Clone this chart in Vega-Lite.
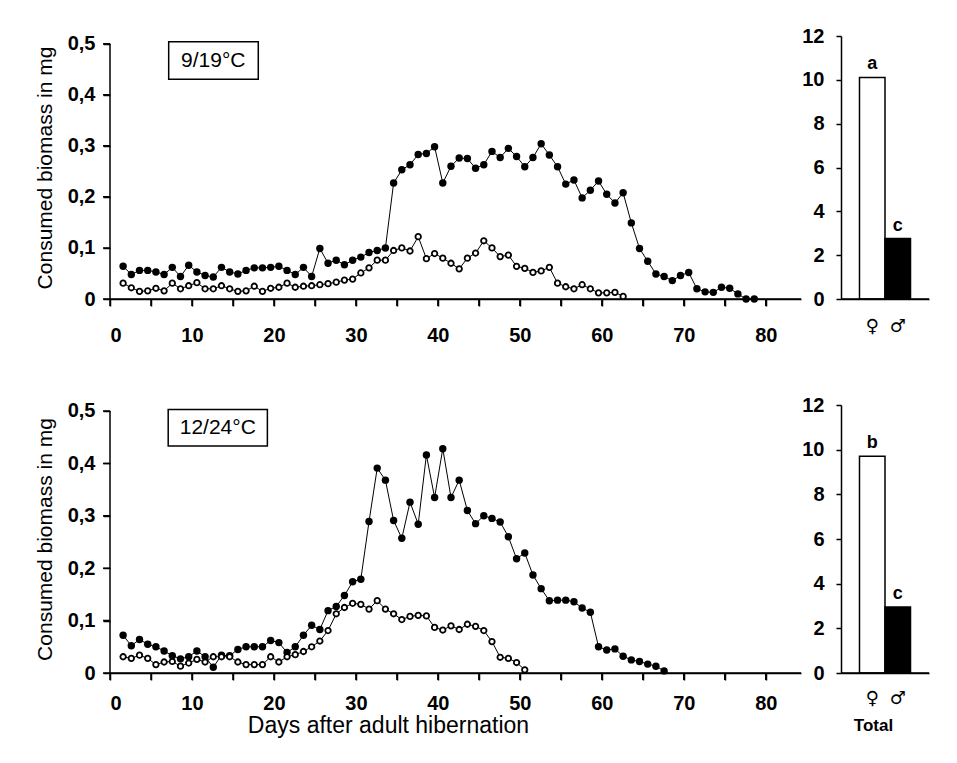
{
  "$schema": "https://vega.github.io/schema/vega-lite/v6.json",
  "padding": {"left": 34, "top": 26, "right": 5, "bottom": 5},
  "background": "white",
  "config": {
    "font": "Liberation Sans",
    "view": {"stroke": null},
    "rule": {"opacity": 1, "strokeOpacity": 1, "stroke": "black"},
    "axis": {"domainColor": "black", "tickColor": "black", "labelColor": "black", "titleColor": "black", "domainWidth": 1.5, "tickWidth": 1.5, "domainOpacity": 1, "tickOpacity": 1, "labelFontSize": 20, "labelFontWeight": "bold", "titleFontSize": 21, "titleFontWeight": "normal", "grid": false},
    "axisX": {"domainOpacity": 1, "tickOpacity": 1, "domainColor": "black", "tickColor": "black"},
    "axisBottom": {"domainOpacity": 1, "tickOpacity": 1, "domainColor": "black", "tickColor": "black"}
  },
  "columns": 2,
  "spacing": {"row": 106, "column": 40},
  "bounds": "flush",
  "align": "each",
  "datasets": {
    "xt": [{"t":0},{"t":5},{"t":10},{"t":15},{"t":20},{"t":25},{"t":30},{"t":35},{"t":40},{"t":45},{"t":50},{"t":55},{"t":60},{"t":65},{"t":70},{"t":75},{"t":80}],
    "yt": [{"t":0},{"t":0.1},{"t":0.2},{"t":0.3},{"t":0.4},{"t":0.5}],
    "top": [
      {"d":1.6,"s":"F","v":0.064},{"d":2.6,"s":"F","v":0.048},{"d":3.6,"s":"F","v":0.056},{"d":4.6,"s":"F","v":0.056},{"d":5.6,"s":"F","v":0.053},{"d":6.6,"s":"F","v":0.048},{"d":7.6,"s":"F","v":0.062},{"d":8.6,"s":"F","v":0.044},{"d":9.6,"s":"F","v":0.066},{"d":10.6,"s":"F","v":0.053},
      {"d":11.6,"s":"F","v":0.046},{"d":12.6,"s":"F","v":0.043},{"d":13.6,"s":"F","v":0.062},{"d":14.6,"s":"F","v":0.053},{"d":15.6,"s":"F","v":0.049},{"d":16.6,"s":"F","v":0.056},{"d":17.6,"s":"F","v":0.061},{"d":18.6,"s":"F","v":0.061},{"d":19.6,"s":"F","v":0.062},{"d":20.6,"s":"F","v":0.064},
      {"d":21.6,"s":"F","v":0.056},{"d":22.6,"s":"F","v":0.048},{"d":23.6,"s":"F","v":0.062},{"d":24.6,"s":"F","v":0.044},{"d":25.6,"s":"F","v":0.099},{"d":26.6,"s":"F","v":0.070},{"d":27.6,"s":"F","v":0.076},{"d":28.6,"s":"F","v":0.067},{"d":29.6,"s":"F","v":0.076},{"d":30.6,"s":"F","v":0.082},
      {"d":31.6,"s":"F","v":0.091},{"d":32.6,"s":"F","v":0.095},{"d":33.6,"s":"F","v":0.100},{"d":34.6,"s":"F","v":0.227},{"d":35.6,"s":"F","v":0.253},{"d":36.6,"s":"F","v":0.263},{"d":37.6,"s":"F","v":0.283},{"d":38.6,"s":"F","v":0.285},{"d":39.6,"s":"F","v":0.298},{"d":40.6,"s":"F","v":0.227},
      {"d":41.6,"s":"F","v":0.260},{"d":42.6,"s":"F","v":0.276},{"d":43.6,"s":"F","v":0.275},{"d":44.6,"s":"F","v":0.256},{"d":45.6,"s":"F","v":0.263},{"d":46.6,"s":"F","v":0.289},{"d":47.6,"s":"F","v":0.277},{"d":48.6,"s":"F","v":0.295},{"d":49.6,"s":"F","v":0.279},{"d":50.6,"s":"F","v":0.259},
      {"d":51.6,"s":"F","v":0.277},{"d":52.6,"s":"F","v":0.304},{"d":53.6,"s":"F","v":0.282},{"d":54.6,"s":"F","v":0.259},{"d":55.6,"s":"F","v":0.225},{"d":56.6,"s":"F","v":0.233},{"d":57.6,"s":"F","v":0.198},{"d":58.6,"s":"F","v":0.213},{"d":59.6,"s":"F","v":0.231},{"d":60.6,"s":"F","v":0.205},
      {"d":61.6,"s":"F","v":0.188},{"d":62.6,"s":"F","v":0.208},{"d":63.6,"s":"F","v":0.149},{"d":64.6,"s":"F","v":0.099},{"d":65.6,"s":"F","v":0.074},{"d":66.6,"s":"F","v":0.049},{"d":67.6,"s":"F","v":0.044},{"d":68.6,"s":"F","v":0.036},{"d":69.6,"s":"F","v":0.046},{"d":70.6,"s":"F","v":0.052},
      {"d":71.6,"s":"F","v":0.020},{"d":72.6,"s":"F","v":0.014},{"d":73.6,"s":"F","v":0.013},{"d":74.6,"s":"F","v":0.023},{"d":75.6,"s":"F","v":0.021},{"d":76.6,"s":"F","v":0.010},{"d":77.6,"s":"F","v":0.0},{"d":78.6,"s":"F","v":0.0},
      {"d":1.6,"s":"M","v":0.031},{"d":2.6,"s":"M","v":0.022},{"d":3.6,"s":"M","v":0.015},{"d":4.6,"s":"M","v":0.016},{"d":5.6,"s":"M","v":0.021},{"d":6.6,"s":"M","v":0.016},{"d":7.6,"s":"M","v":0.031},{"d":8.6,"s":"M","v":0.020},{"d":9.6,"s":"M","v":0.026},{"d":10.6,"s":"M","v":0.032},
      {"d":11.6,"s":"M","v":0.020},{"d":12.6,"s":"M","v":0.020},{"d":13.6,"s":"M","v":0.026},{"d":14.6,"s":"M","v":0.020},{"d":15.6,"s":"M","v":0.015},{"d":16.6,"s":"M","v":0.016},{"d":17.6,"s":"M","v":0.025},{"d":18.6,"s":"M","v":0.015},{"d":19.6,"s":"M","v":0.021},{"d":20.6,"s":"M","v":0.023},
      {"d":21.6,"s":"M","v":0.031},{"d":22.6,"s":"M","v":0.023},{"d":23.6,"s":"M","v":0.025},{"d":24.6,"s":"M","v":0.026},{"d":25.6,"s":"M","v":0.028},{"d":26.6,"s":"M","v":0.030},{"d":27.6,"s":"M","v":0.033},{"d":28.6,"s":"M","v":0.037},{"d":29.6,"s":"M","v":0.039},{"d":30.6,"s":"M","v":0.051},
      {"d":31.6,"s":"M","v":0.061},{"d":32.6,"s":"M","v":0.076},{"d":33.6,"s":"M","v":0.076},{"d":34.6,"s":"M","v":0.095},{"d":35.6,"s":"M","v":0.100},{"d":36.6,"s":"M","v":0.094},{"d":37.6,"s":"M","v":0.122},{"d":38.6,"s":"M","v":0.079},{"d":39.6,"s":"M","v":0.089},{"d":40.6,"s":"M","v":0.080},
      {"d":41.6,"s":"M","v":0.070},{"d":42.6,"s":"M","v":0.059},{"d":43.6,"s":"M","v":0.080},{"d":44.6,"s":"M","v":0.090},{"d":45.6,"s":"M","v":0.114},{"d":46.6,"s":"M","v":0.100},{"d":47.6,"s":"M","v":0.083},{"d":48.6,"s":"M","v":0.086},{"d":49.6,"s":"M","v":0.064},{"d":50.6,"s":"M","v":0.060},
      {"d":51.6,"s":"M","v":0.052},{"d":52.6,"s":"M","v":0.055},{"d":53.6,"s":"M","v":0.062},{"d":54.6,"s":"M","v":0.031},{"d":55.6,"s":"M","v":0.024},{"d":56.6,"s":"M","v":0.020},{"d":57.6,"s":"M","v":0.028},{"d":58.6,"s":"M","v":0.020},{"d":59.6,"s":"M","v":0.012},{"d":60.6,"s":"M","v":0.012},
      {"d":61.6,"s":"M","v":0.013},{"d":62.6,"s":"M","v":0.005}
    ],
    "bottom": [
      {"d":1.6,"s":"F","v":0.072},{"d":2.6,"s":"F","v":0.052},{"d":3.6,"s":"F","v":0.064},{"d":4.6,"s":"F","v":0.055},{"d":5.6,"s":"F","v":0.050},{"d":6.6,"s":"F","v":0.042},{"d":7.6,"s":"F","v":0.033},{"d":8.6,"s":"F","v":0.027},{"d":9.6,"s":"F","v":0.031},{"d":10.6,"s":"F","v":0.042},
      {"d":11.6,"s":"F","v":0.031},{"d":12.6,"s":"F","v":0.011},{"d":13.6,"s":"F","v":0.034},{"d":14.6,"s":"F","v":0.033},{"d":15.6,"s":"F","v":0.045},{"d":16.6,"s":"F","v":0.050},{"d":17.6,"s":"F","v":0.050},{"d":18.6,"s":"F","v":0.050},{"d":19.6,"s":"F","v":0.062},{"d":20.6,"s":"F","v":0.058},
      {"d":21.6,"s":"F","v":0.039},{"d":22.6,"s":"F","v":0.050},{"d":23.6,"s":"F","v":0.072},{"d":24.6,"s":"F","v":0.091},{"d":25.6,"s":"F","v":0.083},{"d":26.6,"s":"F","v":0.119},{"d":27.6,"s":"F","v":0.127},{"d":28.6,"s":"F","v":0.148},{"d":29.6,"s":"F","v":0.174},{"d":30.6,"s":"F","v":0.179},
      {"d":31.6,"s":"F","v":0.289},{"d":32.6,"s":"F","v":0.391},{"d":33.6,"s":"F","v":0.368},{"d":34.6,"s":"F","v":0.291},{"d":35.6,"s":"F","v":0.257},{"d":36.6,"s":"F","v":0.326},{"d":37.6,"s":"F","v":0.284},{"d":38.6,"s":"F","v":0.416},{"d":39.6,"s":"F","v":0.335},{"d":40.6,"s":"F","v":0.428},
      {"d":41.6,"s":"F","v":0.335},{"d":42.6,"s":"F","v":0.368},{"d":43.6,"s":"F","v":0.310},{"d":44.6,"s":"F","v":0.285},{"d":45.6,"s":"F","v":0.300},{"d":46.6,"s":"F","v":0.295},{"d":47.6,"s":"F","v":0.288},{"d":48.6,"s":"F","v":0.260},{"d":49.6,"s":"F","v":0.218},{"d":50.6,"s":"F","v":0.229},
      {"d":51.6,"s":"F","v":0.187},{"d":52.6,"s":"F","v":0.161},{"d":53.6,"s":"F","v":0.138},{"d":54.6,"s":"F","v":0.139},{"d":55.6,"s":"F","v":0.139},{"d":56.6,"s":"F","v":0.136},{"d":57.6,"s":"F","v":0.124},{"d":58.6,"s":"F","v":0.116},{"d":59.6,"s":"F","v":0.050},{"d":60.6,"s":"F","v":0.044},
      {"d":61.6,"s":"F","v":0.046},{"d":62.6,"s":"F","v":0.032},{"d":63.6,"s":"F","v":0.025},{"d":64.6,"s":"F","v":0.022},{"d":65.6,"s":"F","v":0.017},{"d":66.6,"s":"F","v":0.013},{"d":67.6,"s":"F","v":0.004},
      {"d":1.6,"s":"M","v":0.031},{"d":2.6,"s":"M","v":0.028},{"d":3.6,"s":"M","v":0.034},{"d":4.6,"s":"M","v":0.028},{"d":5.6,"s":"M","v":0.016},{"d":6.6,"s":"M","v":0.021},{"d":7.6,"s":"M","v":0.022},{"d":8.6,"s":"M","v":0.013},{"d":9.6,"s":"M","v":0.019},{"d":10.6,"s":"M","v":0.026},
      {"d":11.6,"s":"M","v":0.021},{"d":12.6,"s":"M","v":0.031},{"d":13.6,"s":"M","v":0.031},{"d":14.6,"s":"M","v":0.031},{"d":15.6,"s":"M","v":0.021},{"d":16.6,"s":"M","v":0.016},{"d":17.6,"s":"M","v":0.016},{"d":18.6,"s":"M","v":0.016},{"d":19.6,"s":"M","v":0.031},{"d":20.6,"s":"M","v":0.021},
      {"d":21.6,"s":"M","v":0.031},{"d":22.6,"s":"M","v":0.035},{"d":23.6,"s":"M","v":0.041},{"d":24.6,"s":"M","v":0.050},{"d":25.6,"s":"M","v":0.061},{"d":26.6,"s":"M","v":0.081},{"d":27.6,"s":"M","v":0.113},{"d":28.6,"s":"M","v":0.125},{"d":29.6,"s":"M","v":0.133},{"d":30.6,"s":"M","v":0.131},
      {"d":31.6,"s":"M","v":0.122},{"d":32.6,"s":"M","v":0.138},{"d":33.6,"s":"M","v":0.122},{"d":34.6,"s":"M","v":0.113},{"d":35.6,"s":"M","v":0.102},{"d":36.6,"s":"M","v":0.108},{"d":37.6,"s":"M","v":0.110},{"d":38.6,"s":"M","v":0.109},{"d":39.6,"s":"M","v":0.087},{"d":40.6,"s":"M","v":0.082},
      {"d":41.6,"s":"M","v":0.090},{"d":42.6,"s":"M","v":0.083},{"d":43.6,"s":"M","v":0.093},{"d":44.6,"s":"M","v":0.089},{"d":45.6,"s":"M","v":0.081},{"d":46.6,"s":"M","v":0.060},{"d":47.6,"s":"M","v":0.030},{"d":48.6,"s":"M","v":0.028},{"d":49.6,"s":"M","v":0.020},{"d":50.6,"s":"M","v":0.006}
    ]
  },
  "concat": [
    {
      "width": 691, "height": 263,
      "layer": [
        {"data": {"name": "top"}, "mark": {"type": "line", "stroke": "black", "strokeWidth": 1},
         "encoding": {
          "x": {"field": "d", "type": "quantitative", "scale": {"domain": [0, 84.3], "nice": false, "zero": false},
                "axis": {"values": [0,5,10,15,20,25,30,35,40,45,50,55,60,65,70,75,80], "labelExpr": "datum.value % 10 === 0 ? datum.label : ''", "title": null, "tickSize": 7, "labelPadding": 19, "domainOpacity": 1, "tickOpacity": 1}},
          "y": {"field": "v", "type": "quantitative", "scale": {"domain": [0, 0.515], "nice": false},
                "axis": {"values": [0,0.1,0.2,0.3,0.4,0.5], "labelExpr": "datum.value === 0 ? '0' : replace(format(datum.value, '.1f'), '.', ',')", "domain": false, "tickSize": 7, "labelPadding": 8, "title": "Consumed biomass in mg", "titlePadding": 12}},
          "detail": {"field": "s"}}},
        {"data": {"values": [{}]}, "mark": {"type": "rule", "strokeWidth": 1.5, "stroke": "black", "opacity": 1}, "encoding": {"x": {"datum": 0, "type": "quantitative"}, "y": {"datum": 0, "type": "quantitative"}, "y2": {"datum": 0.5}}},
        {"data": {"values": [{}]}, "mark": {"type": "rect", "fill": null, "stroke": "black", "strokeWidth": 1.5}, "encoding": {"x": {"datum": 0, "type": "quantitative"}, "x2": {"datum": 84.3}, "y": {"datum": 0, "type": "quantitative"}, "y2": {"datum": 0}}},
        {"data": {"name": "xt"}, "mark": {"type": "rect", "fill": null, "stroke": "black", "strokeWidth": 1.5}, "encoding": {"x": {"field": "t", "type": "quantitative"}, "x2": {"field": "t"}, "y": {"datum": 0, "type": "quantitative"}, "y2": {"datum": -0.0137}}},
        {"data": {"name": "yt"}, "mark": {"type": "rect", "fill": null, "stroke": "black", "strokeWidth": 1.5}, "encoding": {"y": {"field": "t", "type": "quantitative"}, "y2": {"field": "t"}, "x": {"datum": 0, "type": "quantitative"}, "x2": {"datum": -0.85}}},
        {"data": {"name": "top"}, "transform": [{"filter": "datum.s === 'F'"}], "mark": {"type": "circle", "size": 55, "color": "black", "opacity": 1},
         "encoding": {"x": {"field": "d", "type": "quantitative"}, "y": {"field": "v", "type": "quantitative"}}},
        {"data": {"name": "top"}, "transform": [{"filter": "datum.s === 'M'"}], "mark": {"type": "circle", "size": 30, "fill": "white", "stroke": "black", "strokeWidth": 1.8, "opacity": 1},
         "encoding": {"x": {"field": "d", "type": "quantitative"}, "y": {"field": "v", "type": "quantitative"}}},
        {"data": {"values": [{"label": "9/19°C"}]}, "mark": {"type": "rect", "fill": "white", "stroke": "black", "strokeWidth": 1.5}, "encoding": {"x": {"datum": 7.16, "type": "quantitative"}, "x2": {"datum": 18.09}, "y": {"datum": 0.4303, "type": "quantitative"}, "y2": {"datum": 0.5038}}},
        {"data": {"values": [{"label": "9/19°C"}]}, "mark": {"type": "text", "fontSize": 21, "color": "black"}, "encoding": {"x": {"datum": 12.6, "type": "quantitative"}, "y": {"datum": 0.467, "type": "quantitative"}, "text": {"field": "label"}}}
      ]
    },
    {
      "width": 88, "height": 263,
      "layer": [
        {"data": {"values": [{"sex": "♀", "total": 10.11, "letter": "a"}, {"sex": "♂", "total": 2.76, "letter": "c"}]},
         "mark": {"type": "bar", "stroke": "black", "strokeWidth": 1.5},
         "encoding": {
          "x": {"field": "sex", "type": "nominal", "sort": null, "scale": {"paddingInner": 0, "paddingOuter": 0.725},
                "axis": {"title": null, "ticks": false, "labelAngle": 0, "labelPadding": 18, "labelFontSize": 18, "labelFontWeight": "normal", "labelFont": "DejaVu Sans"}},
          "y": {"field": "total", "type": "quantitative", "scale": {"domain": [0, 12], "nice": false},
                "axis": {"values": [0,1,2,3,4,5,6,7,8,9,10,11,12], "labelExpr": "datum.value % 2 === 0 ? datum.label : ''", "tickSize": 5, "labelPadding": 12, "title": null}},
          "fill": {"field": "sex", "type": "nominal", "scale": {"domain": ["♀", "♂"], "range": ["white", "black"]}, "legend": null}}},
        {"data": {"values": [{"sex": "♀", "total": 10.11, "letter": "a"}, {"sex": "♂", "total": 2.76, "letter": "c"}]},
         "mark": {"type": "text", "dy": -13, "fontSize": 18, "fontWeight": "bold", "color": "black"},
         "encoding": {"x": {"field": "sex", "type": "nominal", "sort": null}, "y": {"field": "total", "type": "quantitative"}, "text": {"field": "letter"}}},
        {"data": {"values": [{}]}, "mark": {"type": "rect", "fill": null, "stroke": "black", "strokeWidth": 1.5}, "encoding": {"x": {"value": 0}, "x2": {"value": "width"}, "y": {"datum": 0, "type": "quantitative"}, "y2": {"datum": 0}}}
      ]
    },
    {
      "width": 691, "height": 268,
      "layer": [
        {"data": {"name": "bottom"}, "mark": {"type": "line", "stroke": "black", "strokeWidth": 1},
         "encoding": {
          "x": {"field": "d", "type": "quantitative", "scale": {"domain": [0, 84.3], "nice": false, "zero": false},
                "axis": {"values": [0,5,10,15,20,25,30,35,40,45,50,55,60,65,70,75,80], "labelExpr": "datum.value % 10 === 0 ? datum.label : ''", "title": "Days after adult hibernation", "titleFontSize": 23, "titleX": 278, "titleY": 52.5, "titleBaseline": "middle", "tickSize": 7, "labelPadding": 13, "domainOpacity": 1, "tickOpacity": 1}},
          "y": {"field": "v", "type": "quantitative", "scale": {"domain": [0, 0.5114], "nice": false},
                "axis": {"values": [0,0.1,0.2,0.3,0.4,0.5], "labelExpr": "datum.value === 0 ? '0' : replace(format(datum.value, '.1f'), '.', ',')", "domain": false, "tickSize": 7, "labelPadding": 8, "title": "Consumed biomass in mg", "titlePadding": 12}},
          "detail": {"field": "s"}}},
        {"data": {"values": [{}]}, "mark": {"type": "rule", "strokeWidth": 1.5, "stroke": "black", "opacity": 1}, "encoding": {"x": {"datum": 0, "type": "quantitative"}, "y": {"datum": 0, "type": "quantitative"}, "y2": {"datum": 0.5}}},
        {"data": {"values": [{}]}, "mark": {"type": "rect", "fill": null, "stroke": "black", "strokeWidth": 1.5}, "encoding": {"x": {"datum": 0, "type": "quantitative"}, "x2": {"datum": 84.3}, "y": {"datum": 0, "type": "quantitative"}, "y2": {"datum": 0}}},
        {"data": {"name": "xt"}, "mark": {"type": "rect", "fill": null, "stroke": "black", "strokeWidth": 1.5}, "encoding": {"x": {"field": "t", "type": "quantitative"}, "x2": {"field": "t"}, "y": {"datum": 0, "type": "quantitative"}, "y2": {"datum": -0.0134}}},
        {"data": {"name": "yt"}, "mark": {"type": "rect", "fill": null, "stroke": "black", "strokeWidth": 1.5}, "encoding": {"y": {"field": "t", "type": "quantitative"}, "y2": {"field": "t"}, "x": {"datum": 0, "type": "quantitative"}, "x2": {"datum": -0.85}}},
        {"data": {"name": "bottom"}, "transform": [{"filter": "datum.s === 'F'"}], "mark": {"type": "circle", "size": 55, "color": "black", "opacity": 1},
         "encoding": {"x": {"field": "d", "type": "quantitative"}, "y": {"field": "v", "type": "quantitative"}}},
        {"data": {"name": "bottom"}, "transform": [{"filter": "datum.s === 'M'"}], "mark": {"type": "circle", "size": 30, "fill": "white", "stroke": "black", "strokeWidth": 1.8, "opacity": 1},
         "encoding": {"x": {"field": "d", "type": "quantitative"}, "y": {"field": "v", "type": "quantitative"}}},
        {"data": {"values": [{"label": "12/24°C"}]}, "mark": {"type": "rect", "fill": "white", "stroke": "black", "strokeWidth": 1.5}, "encoding": {"x": {"datum": 7.1, "type": "quantitative"}, "x2": {"datum": 19.2}, "y": {"datum": 0.433, "type": "quantitative"}, "y2": {"datum": 0.503}}},
        {"data": {"values": [{"label": "12/24°C"}]}, "mark": {"type": "text", "fontSize": 21, "color": "black"}, "encoding": {"x": {"datum": 13.15, "type": "quantitative"}, "y": {"datum": 0.468, "type": "quantitative"}, "text": {"field": "label"}}}
      ]
    },
    {
      "width": 88, "height": 268,
      "layer": [
        {"data": {"values": [{"sex": "♀", "total": 9.70, "letter": "b"}, {"sex": "♂", "total": 2.96, "letter": "c"}]},
         "mark": {"type": "bar", "stroke": "black", "strokeWidth": 1.5},
         "encoding": {
          "x": {"field": "sex", "type": "nominal", "sort": null, "scale": {"paddingInner": 0, "paddingOuter": 0.725},
                "axis": {"title": "Total", "titleX": 32, "titleY": 52, "titleBaseline": "middle", "titleFontWeight": "bold", "titleFontSize": 17, "ticks": false, "labelAngle": 0, "labelPadding": 16, "labelFontSize": 18, "labelFontWeight": "normal", "labelFont": "DejaVu Sans"}},
          "y": {"field": "total", "type": "quantitative", "scale": {"domain": [0, 12], "nice": false},
                "axis": {"values": [0,1,2,3,4,5,6,7,8,9,10,11,12], "labelExpr": "datum.value % 2 === 0 ? datum.label : ''", "tickSize": 5, "labelPadding": 12, "title": null}},
          "fill": {"field": "sex", "type": "nominal", "scale": {"domain": ["♀", "♂"], "range": ["white", "black"]}, "legend": null}}},
        {"data": {"values": [{"sex": "♀", "total": 9.70, "letter": "b"}, {"sex": "♂", "total": 2.96, "letter": "c"}]},
         "mark": {"type": "text", "dy": -13, "fontSize": 18, "fontWeight": "bold", "color": "black"},
         "encoding": {"x": {"field": "sex", "type": "nominal", "sort": null}, "y": {"field": "total", "type": "quantitative"}, "text": {"field": "letter"}}},
        {"data": {"values": [{}]}, "mark": {"type": "rect", "fill": null, "stroke": "black", "strokeWidth": 1.5}, "encoding": {"x": {"value": 0}, "x2": {"value": "width"}, "y": {"datum": 0, "type": "quantitative"}, "y2": {"datum": 0}}}
      ]
    }
  ]
}
